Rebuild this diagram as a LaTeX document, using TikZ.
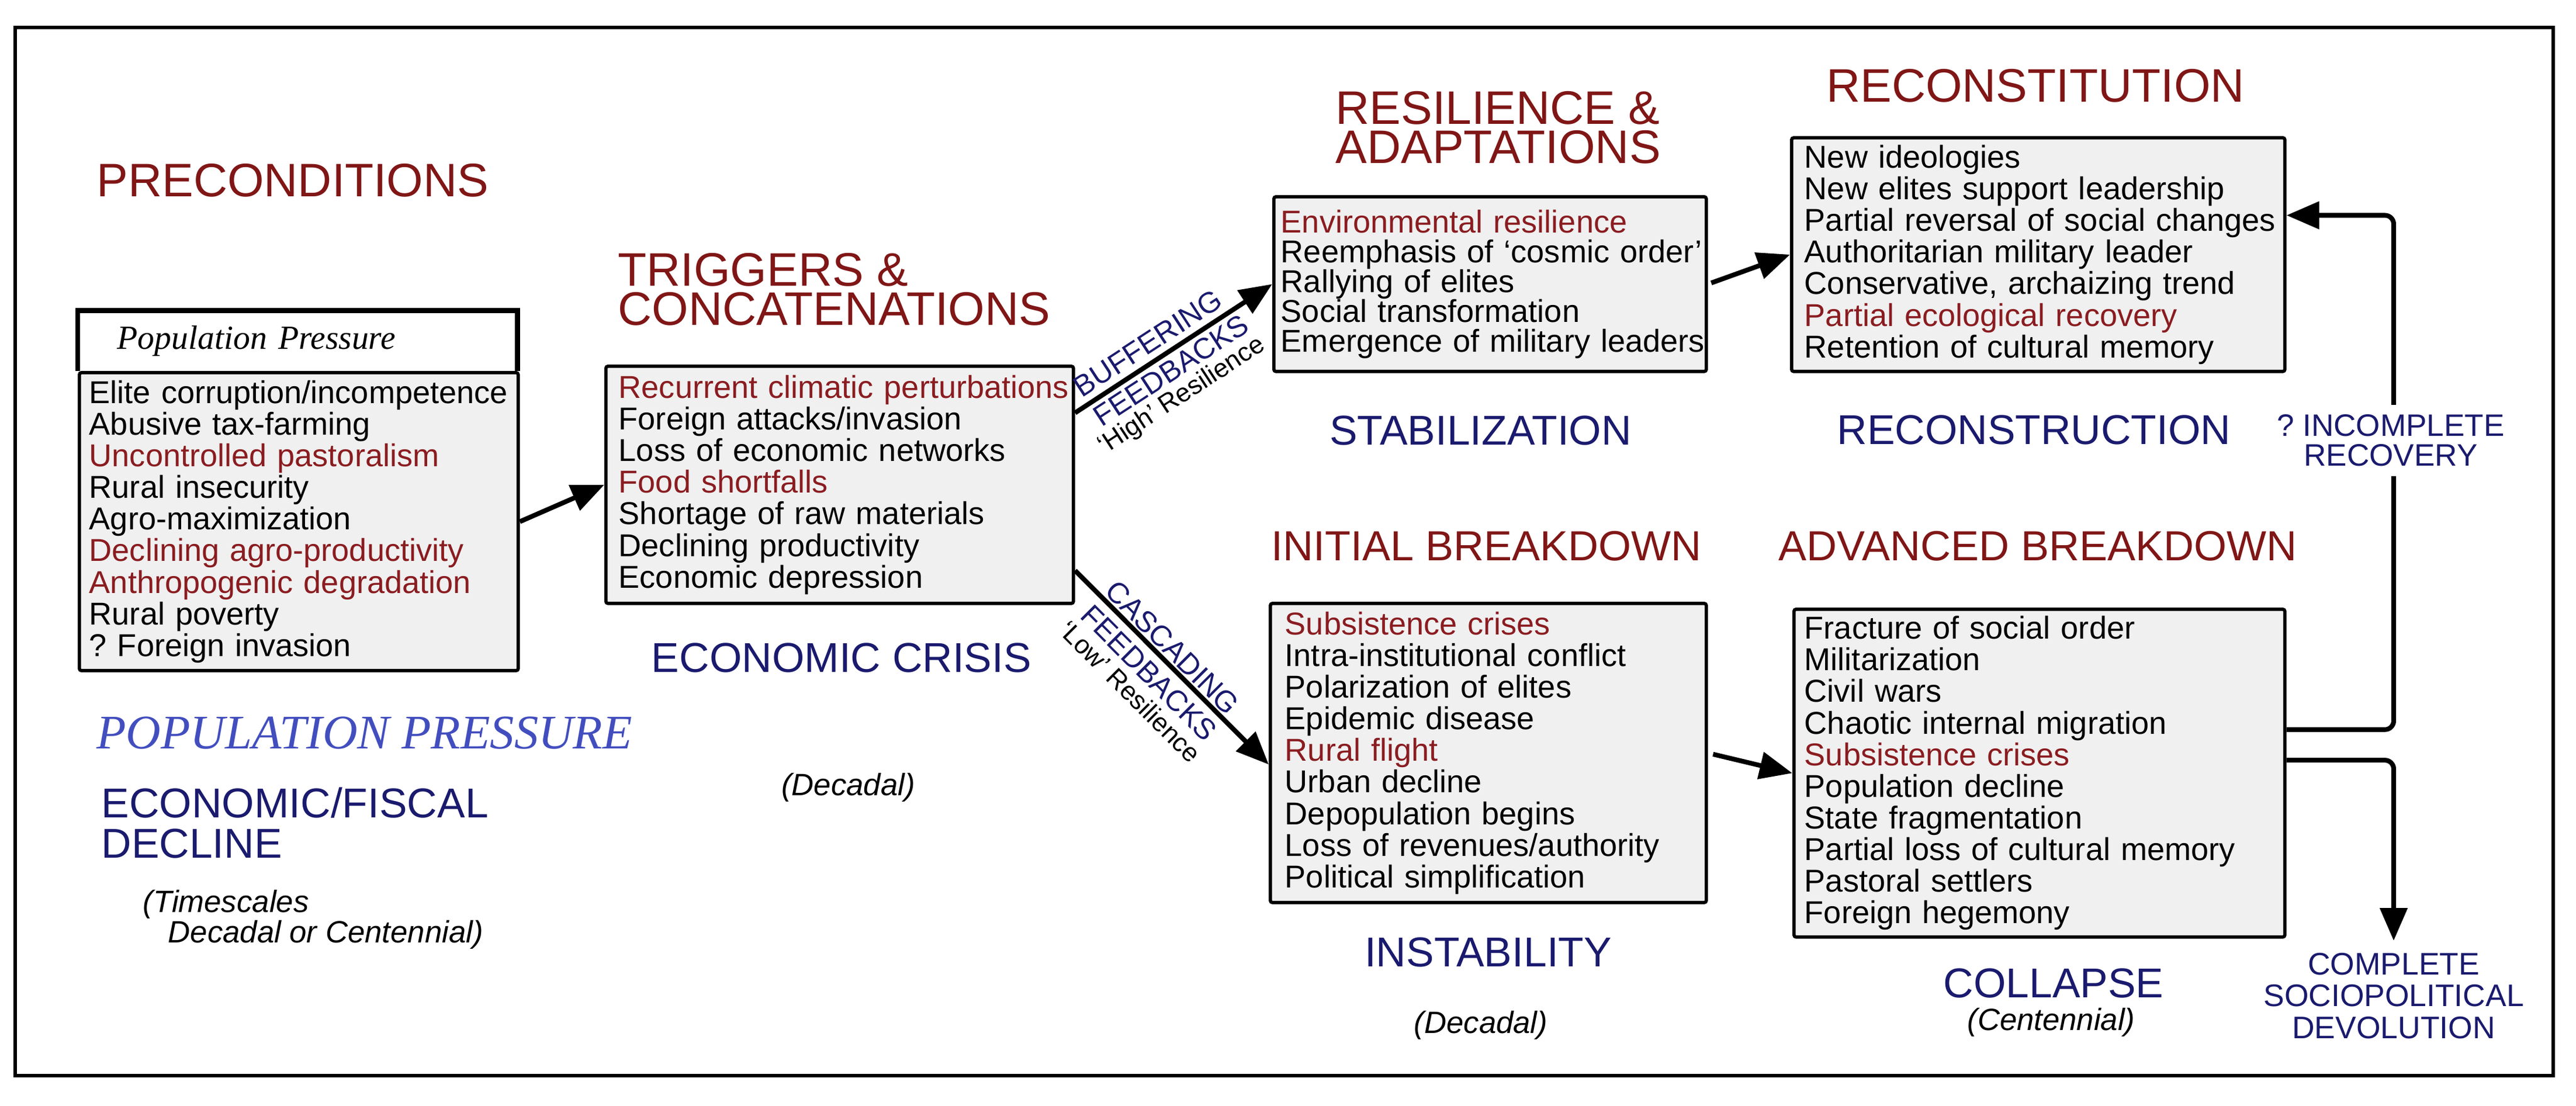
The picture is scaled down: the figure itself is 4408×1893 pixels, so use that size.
\documentclass[tikz,border=0pt]{standalone}
\usepackage{fontspec}
\setmainfont{Liberation Sans}
\newfontfamily\popserif{Liberation Serif}
\usetikzlibrary{arrows.meta}

\definecolor{headred}{RGB}{128,22,22}
\definecolor{itemred}{RGB}{138,28,32}
\definecolor{phaseblue}{RGB}{26,26,110}
\definecolor{popblue}{RGB}{66,78,190}
\definecolor{boxgrey}{RGB}{240,240,240}

\newcommand{\boxtext}{\fontsize{15.4}{15.4}\selectfont}
\newcommand{\headtext}{\fontsize{22.9}{19}\selectfont}
\newcommand{\breaktext}{\fontsize{20.5}{20}\selectfont}
\newcommand{\phasetext}{\fontsize{20.3}{19.6}\selectfont}
\newcommand{\notetext}{\fontsize{15}{13.8}\selectfont\itshape}
\newcommand{\sidetext}{\fontsize{15.1}{14.5}\selectfont}
\newcommand{\redline}[1]{\textcolor{itemred}{#1}}

\begin{document}
\begin{tikzpicture}[x=0.1mm, y=-0.1mm,
    listbox/.style={draw, fill=boxgrey, line width=1.6pt, rounded corners=1pt,
        anchor=north west, align=left, inner ysep=0pt, font=\boxtext,
        execute at begin node={\rightskip=-2cm\relax}},
    heading/.style={inner sep=0pt, text=headred, font=\headtext},
    phase/.style={inner sep=0pt, text=phaseblue, font=\phasetext},
    note/.style={inner sep=0pt, font=\notetext},
    flow/.style={-{Triangle[length=5.6mm,width=4.6mm]}, line width=2.3pt},
    feedtag/.style={sloped, text=phaseblue, font=\fontsize{14.3}{14.3}\selectfont},
    resiltag/.style={sloped, font=\fontsize{12.7}{12.7}\selectfont}]

    \useasboundingbox (0,0) rectangle (4408,1893);

    % Frame
    \draw[line width=1.9pt] (26,47) rectangle (4369,1841);

    %% Preconditions
    \node[heading] (pre) at (501,309) {PRECONDITIONS};
    \node[listbox, text width=71.7mm, inner xsep=1.7mm, minimum height=51mm] (b1) at (133,635) {
        Elite corruption/incompetence\\
        Abusive tax-farming\\
        \redline{Uncontrolled pastoralism}\\
        Rural insecurity\\
        Agro-maximization\\
        \redline{Declining agro-productivity}\\
        \redline{Anthropogenic degradation}\\
        Rural poverty\\
        ?\ Foreign invasion};
    \node[fill=white, anchor=south west, minimum height=10.2mm,
        text width=61.7mm, inner xsep=6.7mm, inner ysep=0pt, align=left,
        font=\popserif\itshape\fontsize{16.4}{16.4}\selectfont] (hdr) at (b1.north west) {Population Pressure};
    \draw[line width=2.5pt] (hdr.south west) -- (hdr.north west) -- (hdr.north east) -- (hdr.south east);
    \node[inner sep=0pt, text=popblue, font=\popserif\itshape\fontsize{23.5}{23.5}\selectfont] (pop) at (623.5,1254.5) {POPULATION PRESSURE};
    \node[phase, anchor=west, align=left] (efd) at (173,1408.5) {ECONOMIC/FISCAL\\DECLINE};
    \node[note, anchor=west, align=left] (tsc) at (244,1574) {(Timescales\\\hspace*{4.3mm}Decadal or Centennial)};

    %% Triggers
    \node[heading, anchor=west, align=left] (trig) at (1057,495.5) {TRIGGERS \&\\CONCATENATIONS};
    \node[listbox, text width=75.6mm, inner xsep=2.2mm, minimum height=40.6mm] (b2) at (1034,624) {
        \redline{Recurrent climatic perturbations}\\
        Foreign attacks/invasion\\
        Loss of economic networks\\
        \redline{Food shortfalls}\\
        Shortage of raw materials\\
        Declining productivity\\
        Economic depression};
    \node[phase] (ecr) at (1440,1125.5) {ECONOMIC CRISIS};
    \node[note] (dec1) at (1451.5,1348) {(Decadal)};

    %% Resilience
    \node[heading, anchor=west, align=left] (res) at (2285,218) {RESILIENCE \&\\ADAPTATIONS};
    \node[listbox, text width=71.6mm, inner xsep=1.2mm, minimum height=29.9mm,
        font=\fontsize{15.4}{14.5}\selectfont] (b3) at (2177,334) {
        \redline{Environmental resilience}\\
        Reemphasis of ‘cosmic order’\\
        Rallying of elites\\
        Social transformation\\
        Emergence of military leaders};
    \node[phase] (stab) at (2533.5,736.5) {STABILIZATION};

    %% Reconstitution
    \node[heading] (recon) at (3483,147) {RECONSTITUTION};
    \node[listbox, text width=80mm, inner xsep=2.2mm, minimum height=40mm] (b5) at (3063,233) {
        New ideologies\\
        New elites support leadership\\
        Partial reversal of social changes\\
        Authoritarian military leader\\
        Conservative, archaizing trend\\
        \redline{Partial ecological recovery}\\
        Retention of cultural memory};
    \node[phase] (rcons) at (3480.5,736) {RECONSTRUCTION};

    %% Initial breakdown
    \node[heading, font=\breaktext] (init) at (2543.5,935) {INITIAL BREAKDOWN};
    \node[listbox, text width=69.6mm, inner xsep=2.5mm, minimum height=51.2mm] (b4) at (2171,1030) {
        \redline{Subsistence crises}\\
        Intra-institutional conflict\\
        Polarization of elites\\
        Epidemic disease\\
        \redline{Rural flight}\\
        Urban decline\\
        Depopulation begins\\
        Loss of revenues/authority\\
        Political simplification};
    \node[phase] (inst) at (2546.5,1630) {INSTABILITY};
    \node[note] (dec2) at (2534,1754.5) {(Decadal)};

    %% Advanced breakdown
    \node[heading, font=\breaktext] (adv) at (3487,935) {ADVANCED BREAKDOWN};
    \node[listbox, text width=80.4mm, inner xsep=1.8mm, minimum height=56.1mm] (b6) at (3067,1040) {
        Fracture of social order\\
        Militarization\\
        Civil wars\\
        Chaotic internal migration\\
        \redline{Subsistence crises}\\
        Population decline\\
        State fragmentation\\
        Partial loss of cultural memory\\
        Pastoral settlers\\
        Foreign hegemony};
    \node[phase] (coll) at (3514,1683) {COLLAPSE};
    \node[note] (cent) at (3510,1749.5) {(Centennial)};

    %% Arrows
    \draw[flow] (b1.east) -- (b2.west);

    % Buffering feedbacks
    \draw[flow] (b2.17) -- (b3.west)
        node[feedtag, pos=0.42, anchor=south, inner sep=1mm] {BUFFERING}
        node[feedtag, pos=0.44, anchor=north, inner sep=0.7mm] {FEEDBACKS}
        node[resiltag, pos=0.42, anchor=north, inner ysep=5.1mm] {‘High’ Resilience};

    % Cascading feedbacks
    \draw[flow] (b2.-20) -- (b4.183)
        node[feedtag, pos=0.45, anchor=south, inner sep=0.3mm] {CASCADING}
        node[feedtag, pos=0.455, anchor=north, inner sep=1.25mm] {FEEDBACKS}
        node[resiltag, pos=0.455, anchor=north, inner ysep=5.9mm] {‘Low’ Resilience};

    \draw[flow, shorten <=0.6mm] (b3.east) -- (b5.west);
    \draw[flow, shorten <=0.9mm] (b4.east) -- (b6.west);

    % Incomplete recovery loop
    \coordinate (loop) at (4096,800);
    \draw[flow, rounded corners=1.5mm] (b6.10) -| (loop) |- (b5.9);
    \node[fill=white, inner xsep=0.5mm, inner ysep=1.7mm, align=center, text=phaseblue,
        font=\sidetext] (incr) at (4091,754) {?\ INCOMPLETE\\RECOVERY};

    % Complete devolution
    \node[inner xsep=0pt, inner ysep=2mm, align=center, text=phaseblue,
        font=\fontsize{15.2}{15.6}\selectfont] (cmpl) at (4096,1704.5) {COMPLETE\\SOCIOPOLITICAL\\DEVOLUTION};
    \draw[flow, rounded corners=1.5mm] (b6.3) -| (cmpl.north);

\end{tikzpicture}
\end{document}
